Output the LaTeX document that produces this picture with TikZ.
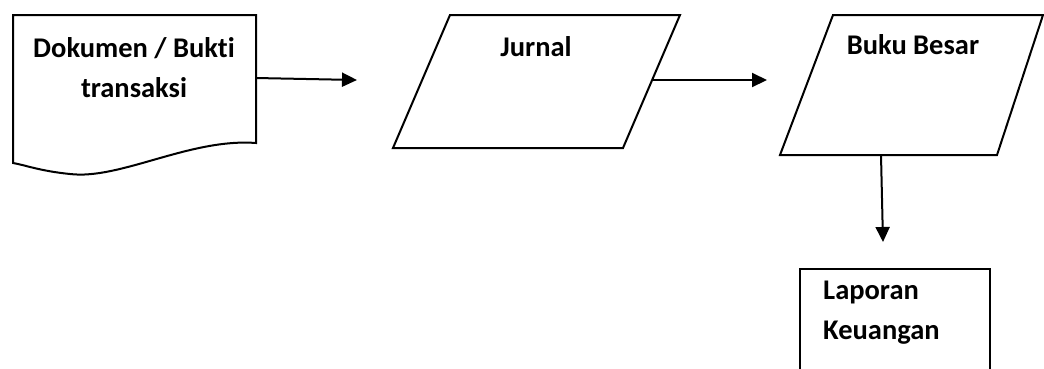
\documentclass[tikz,border=0pt]{standalone}
\usepackage{fontspec}
\setmainfont{Carlito}[Ligatures=NoCommon]
\usetikzlibrary{arrows.meta}
\tikzset{
  outline/.style={draw=black, line width=2pt, line join=miter},
  flow/.style={draw=black, line width=2pt, -{Triangle[length=15pt,width=14pt]}},
  label/.style={font=\bfseries\fontsize{28.5}{40}\selectfont, inner sep=0pt, text=black}
}
\begin{document}
\begin{tikzpicture}[x=1pt,y=-1pt]
\useasboundingbox (0,0) rectangle (1044,368);
\clip (0,0) rectangle (1044,368);

% source document with wavy bottom edge
\draw[outline] (13,15) -- (256,15) -- (256,143)
  .. controls (190,138) and (120,180) .. (70,174)
  .. controls (40,171) and (25,165) .. (13,163) -- cycle;
\node[label, align=center] (doc) at (134,68) {Dokumen / Bukti\\transaksi};
\coordinate (docR) at (256,78);

% journal (parallelogram)
\draw[outline] (450,15) -- (680,15) -- (623,148) -- (393,148) -- cycle;
\node[label] (jurnal) at (536,47) {Jurnal};
\coordinate (jurL) at (357,80);
\coordinate (jurR) at (653,80);

% general ledger (parallelogram)
\draw[outline] (833,15) -- (1043,15) -- (997,155) -- (780,155) -- cycle;
\node[label] (buku) at (913,45) {Buku Besar};
\coordinate (bukL) at (767,80);
\coordinate (bukB) at (881,155);

% financial report box
\draw[outline] (800,269) -- (990,269) -- (990,380) -- (800,380) -- cycle;
\node[label, align=left, anchor=north west] (lap) at (823,281) {Laporan\\Keuangan};
\coordinate (lapT) at (883,242);

% connectors
\draw[flow] (docR) -- (jurL);
\draw[flow] (jurR) -- (bukL);
\draw[flow] (bukB) -- (lapT);
\end{tikzpicture}
\end{document}
